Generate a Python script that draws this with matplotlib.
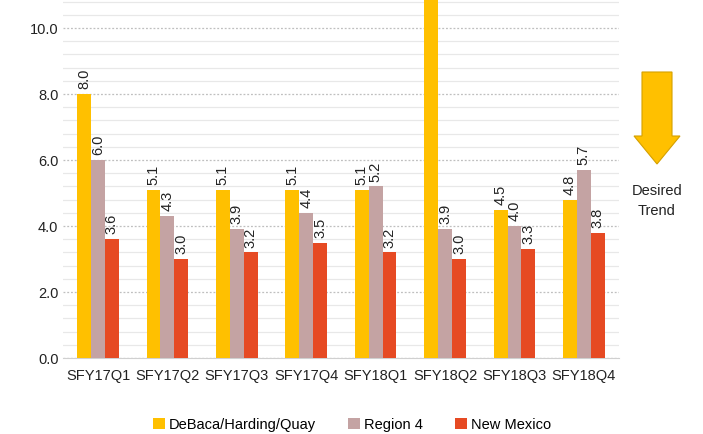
import matplotlib.pyplot as plt
import numpy as np
from matplotlib.patches import FancyArrow

# data
quarters = ["SFY17Q1", "SFY17Q2", "SFY17Q3", "SFY17Q4",
            "SFY18Q1", "SFY18Q2", "SFY18Q3", "SFY18Q4"]
county = [8.0, 5.1, 5.1, 5.1, 5.1, 12.0, 4.5, 4.8]   # SFY18Q2 runs off the top
region4 = [6.0, 4.3, 3.9, 4.4, 5.2, 3.9, 4.0, 5.7]
new_mexico = [3.6, 3.0, 3.2, 3.5, 3.2, 3.0, 3.3, 3.8]
series_names = ["DeBaca/Harding/Quay", "Region 4", "New Mexico"]

colors = ["#FFC000", "#C4A3A3", "#E64A23"]
y_top = 10.85

plt.rcParams['font.family'] = ['Liberation Sans', 'DejaVu Sans']

fig = plt.figure(figsize=(7.03, 4.34), dpi=100)
ax = fig.add_axes([0.09, 0.175, 0.79, 0.825])

x = np.arange(len(quarters))
w = 0.2
for i, (vals, name, c) in enumerate(zip([county, region4, new_mexico], series_names, colors)):
    pos = x + (i - 1) * w
    ax.bar(pos, vals, width=w, color=c, label=name, zorder=3)
    for px, v in zip(pos, vals):
        if v > y_top:
            continue  # label is off the visible area in the original
        ax.text(px, v + 0.15, f"{v:.1f}", rotation=90, ha="center", va="bottom",
                fontsize=10.5, color="#222222", zorder=4)

ax.set_ylim(0, y_top)
ax.set_xlim(-0.5, len(quarters) - 0.5)
ax.set_yticks(np.arange(0, 10.1, 2.0))
ax.set_yticklabels([f"{t:.1f}" for t in np.arange(0, 10.1, 2.0)], fontsize=10.5)
ax.set_yticks(np.arange(0, y_top, 0.4), minor=True)
ax.set_xticks(x)
ax.set_xticklabels(quarters, fontsize=10.5)
ax.tick_params(axis="both", length=0, which="both", colors="#222222")
ax.tick_params(axis="x", pad=8)

ax.grid(axis="y", which="minor", color="#E8E8E8", linewidth=0.9, zorder=0)
ax.grid(axis="y", which="major", color="#BFBFBF", linewidth=0.9, linestyle=(0, (1.5, 1.5)), zorder=1)
for s in ["top", "right", "left"]:
    ax.spines[s].set_visible(False)
ax.spines["bottom"].set_color("#D0D0D0")

ax.legend(loc="upper center", bbox_to_anchor=(0.52, -0.13), ncol=3, frameon=False,
          fontsize=10.5, handlelength=0.8, handleheight=0.8, handletextpad=0.3, columnspacing=2.2)

# desired trend arrow
fig.patches.append(FancyArrow(657 / 703, 1 - 72 / 434, 0, -(92 / 434), width=30 / 703,
                              head_width=46 / 703, head_length=28 / 434,
                              length_includes_head=True, transform=fig.transFigure,
                              facecolor="#FFC000", edgecolor="#D4A000", linewidth=0.8))
fig.text(657 / 703, 1 - 201 / 434, "Desired\nTrend", ha="center", va="center",
         fontsize=10.5, linespacing=1.6, color="#222222")

fig.savefig("out.png", dpi=100)
